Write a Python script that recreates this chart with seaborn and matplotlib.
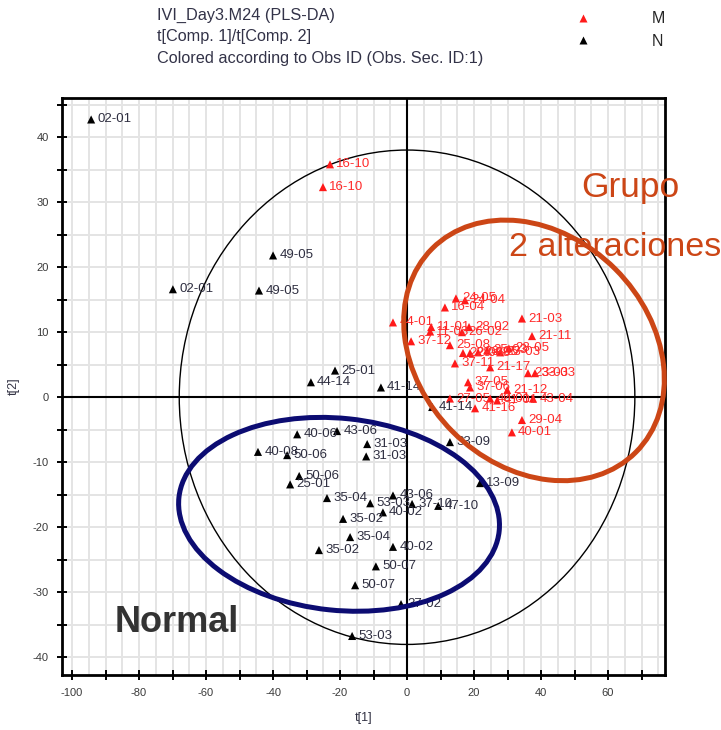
import numpy as np
import pandas as pd
import seaborn as sns
import matplotlib.pyplot as plt
from matplotlib.patches import Ellipse
from matplotlib.transforms import IdentityTransform
from matplotlib.ticker import MultipleLocator

sns.set_theme(style="white")
plt.rcParams['font.family'] = ['Liberation Sans', 'DejaVu Sans']
plt.rcParams['axes.unicode_minus'] = False

# PLS-DA scores, class M
m_ids = ["16-10", "16-10", "44-01", "11-01", "11-03", "24-05", "24-04", "16-04",
         "28-02", "26-02", "37-12", "25-08", "21-03", "21-11", "28-05", "25-03",
         "23-03", "22-08", "28-08", "26-05", "37-11", "21-17", "23-03", "33-03",
         "37-05", "37-06", "21-12", "27-05", "40-01", "41-01", "43-04", "41-16",
         "29-04", "40-01"]
m_t1 = [-23.0, -25.1, -4.2, 7.2, 6.9, 14.6, 17.3, 11.3,
        18.5, 16.4, 1.2, 12.8, 34.3, 37.3, 30.4, 23.9,
        27.8, 16.7, 18.8, 21.2, 14.3, 24.8, 36.1, 38.2,
        18.2, 18.8, 29.9, 12.8, 24.8, 26.9, 37.6, 20.3,
        34.3, 31.3]
m_t2 = [35.8, 32.3, 11.5, 10.8, 10.1, 15.2, 14.9, 13.8,
        10.8, 10.0, 8.6, 8.0, 12.1, 9.4, 7.5, 7.2,
        6.9, 6.8, 6.8, 6.9, 5.2, 4.6, 3.7, 3.7,
        2.3, 1.5, 1.1, -0.2, -0.2, -0.5, -0.2, -1.7,
        -3.5, -5.4]

# PLS-DA scores, class N
n_ids = ["02-01", "49-05", "02-01", "49-05", "25-01", "44-14", "41-14", "40-06",
         "43-06", "31-03", "31-03", "40-08", "50-06", "50-06", "25-01", "35-04",
         "53-03", "43-06", "40-02", "37-10", "47-10", "35-02", "35-04", "35-02",
         "40-02", "50-07", "50-07", "37-02", "53-03", "33-09", "13-09", "41-14"]
n_t1 = [-94.3, -40.0, -69.9, -44.2, -21.5, -28.7, -7.8, -32.8,
        -20.9, -11.9, -12.2, -44.5, -35.8, -32.2, -34.9, -23.9,
        -11.0, -4.2, -7.2, 1.5, 9.3, -19.1, -17.0, -26.3,
        -4.2, -9.3, -15.5, -1.8, -16.4, 12.8, 21.8, 7.5]
n_t2 = [42.7, 21.8, 16.6, 16.4, 4.1, 2.3, 1.5, -5.7,
        -5.2, -7.2, -9.1, -8.4, -8.9, -12.1, -13.4, -15.5,
        -16.3, -15.1, -17.7, -16.4, -16.7, -18.7, -21.5, -23.5,
        -23.0, -26.0, -28.9, -31.8, -36.7, -6.9, -13.2, -1.5]

df = pd.DataFrame({
    "obs": m_ids + n_ids,
    "t1": m_t1 + n_t1,
    "t2": m_t2 + n_t2,
    "cls": ["M"] * len(m_ids) + ["N"] * len(n_ids),
})

W, H = 721, 730
fig = plt.figure(figsize=(W / 100, H / 100), dpi=100)
ax = fig.add_axes([62 / W, 1 - 675 / H, (665 - 62) / W, (675 - 98) / H])
ax.set_xlim(-103, 77)
ax.set_ylim(-42.7, 46)

# background grid every 5 units
for gx in np.arange(-100, 77, 5):
    ax.axvline(gx, color="#e4e4e4", lw=1.4, zorder=0)
for gy in np.arange(-40, 46, 5):
    ax.axhline(gy, color="#e4e4e4", lw=1.4, zorder=0)
ax.axhline(0, color="black", lw=1.5, zorder=1)
ax.axvline(0, color="black", lw=1.5, zorder=1)

# Hotelling T2 ellipse
ax.add_patch(Ellipse((0, 0), width=2 * 68, height=2 * 38, fill=False,
                     edgecolor="black", lw=1.0, zorder=2))

palette = {"M": "#ff1a1a", "N": "black"}
sns.scatterplot(data=df, x="t1", y="t2", hue="cls", hue_order=["M", "N"],
                palette=palette, marker="^", s=34, edgecolor="none",
                ax=ax, zorder=4)

label_colors = {"M": "#ff2a2a", "N": "#2e2e40"}
for _, r in df.iterrows():
    ax.annotate(r["obs"], (r["t1"], r["t2"]), xytext=(4.5, 0),
                textcoords="offset points", ha="left", va="center",
                fontsize=9.5, color=label_colors[r["cls"]], zorder=5)

ax.xaxis.set_major_locator(MultipleLocator(20))
ax.xaxis.set_minor_locator(MultipleLocator(10))
ax.yaxis.set_major_locator(MultipleLocator(10))
ax.yaxis.set_minor_locator(MultipleLocator(5))
ax.tick_params(which="both", direction="inout", length=7, width=1.4,
               color="black", bottom=True, left=True, top=False, right=False)
ax.tick_params(which="major", labelsize=8, labelcolor="#3a3a3a", pad=6)
for sp in ax.spines.values():
    sp.set_linewidth(2)
    sp.set_color("black")

ax.set_xlabel("t[1]", fontsize=9, color="#333344", labelpad=10)
ax.set_ylabel("t[2]", fontsize=9, color="#333344", labelpad=9)

# group outlines drawn in screen space
fig.canvas.draw()
def outline(center, w, h, angle, color):
    cx, cy = ax.transData.transform(center)
    fig.add_artist(Ellipse((cx, cy), width=w, height=h, angle=angle,
                           fill=False, edgecolor=color, lw=3.6,
                           transform=IdentityTransform(), zorder=6))

outline((37.9, 7.2), 288, 230, -45, "#cc4616")
outline((-20.3, -18.0), 322, 192, -6, "#0c0c72")

fig.text(115 / W, 1 - 622 / H, "Normal", fontsize=26, fontweight="bold",
         color="#333333", va="center", ha="left")
fig.text(630 / W, 1 - 188 / H, "Grupo", fontsize=25.5, color="#cc4616",
         va="center", ha="center")
fig.text(615 / W, 1 - 248 / H, "2 alteraciones", fontsize=24.5, color="#cc4616",
         va="center", ha="center")

header = ["IVI_Day3.M24 (PLS-DA)", "t[Comp. 1]/t[Comp. 2]",
          "Colored according to Obs ID (Obs. Sec. ID:1)"]
for i, line in enumerate(header):
    fig.text(157 / W, 1 - (15 + 22 * i) / H, line, fontsize=11.7,
             color="#333348", va="center", ha="left")

sns.move_legend(ax, loc="upper left", bbox_to_anchor=(553 / W, 1 + 3 / H),
                bbox_transform=fig.transFigure, frameon=False, title=None,
                fontsize=11.5, handletextpad=3.3, labelspacing=0.45,
                markerscale=1.0)

fig.savefig("out.png", dpi=100)
